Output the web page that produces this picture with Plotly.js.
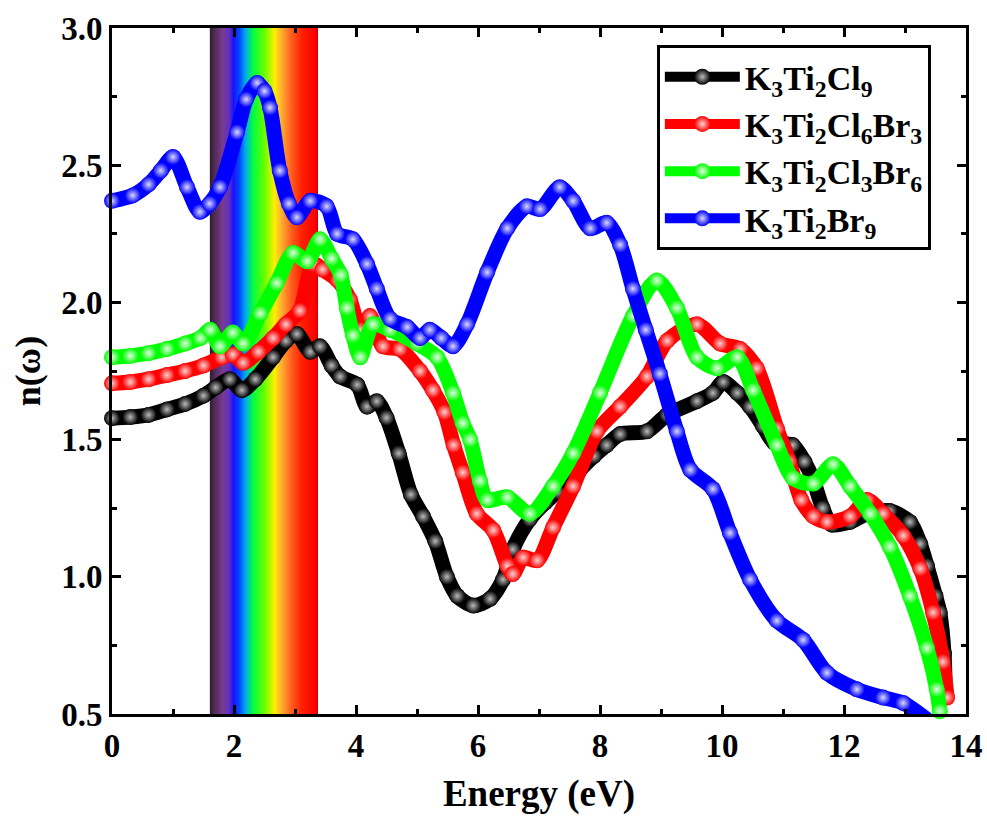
<!DOCTYPE html>
<html>
<head>
<meta charset="utf-8">
<script src="https://cdn.plot.ly/plotly-3.0.1.min.js"></script>
<style>html,body{margin:0;padding:0;background:#fff;}#chart{width:987px;height:822px;}</style>
</head>
<body>
<div id="chart"></div>
<script>
// ---- data ----
const names = ['K<sub>3</sub>Ti<sub>2</sub>Cl<sub>9</sub>', 'K<sub>3</sub>Ti<sub>2</sub>Cl<sub>6</sub>Br<sub>3</sub>', 'K<sub>3</sub>Ti<sub>2</sub>Cl<sub>3</sub>Br<sub>6</sub>', 'K<sub>3</sub>Ti<sub>2</sub>Br<sub>9</sub>'];

const eCl9 = [0,0.3,0.6,0.9,1.2,1.5,1.7,1.93,2.13,2.35,2.64,2.85,3.03,3.25,3.41,3.6,3.74,4.02,4.18,4.34,4.5,4.7,4.9,5.1,5.3,5.49,5.66,5.92,6.2,6.41,6.57,6.85,7.1,7.3,7.67,7.9,8.11,8.33,8.77,9.1,9.59,9.85,10.02,10.25,10.46,10.67,10.85,11.16,11.35,11.5,11.65,11.8,12.1,12.38,12.75,13.08,13.25,13.36,13.5,13.57,13.64,13.66];
const nCl9 = [1.578,1.582,1.59,1.61,1.63,1.66,1.69,1.72,1.68,1.72,1.80,1.86,1.885,1.82,1.84,1.77,1.73,1.70,1.62,1.64,1.58,1.45,1.30,1.22,1.13,1.00,0.93,0.895,0.92,0.99,1.10,1.21,1.27,1.31,1.39,1.44,1.48,1.52,1.53,1.59,1.64,1.67,1.71,1.67,1.62,1.55,1.49,1.48,1.42,1.35,1.25,1.19,1.20,1.23,1.24,1.20,1.12,1.04,0.93,0.87,0.72,0.57];

const eCl6Br3 = [0,0.3,0.6,0.9,1.2,1.5,1.8,1.98,2.15,2.4,2.64,2.85,3.08,3.3,3.45,3.7,3.9,4.07,4.23,4.44,4.72,5.05,5.26,5.45,5.6,5.75,5.98,6.25,6.48,6.57,6.74,6.97,7.23,7.56,7.95,8.33,8.77,9.1,9.59,9.97,10.3,10.57,10.9,11.1,11.3,11.5,11.72,12.1,12.38,12.64,12.97,13.25,13.46,13.62,13.69];
const nCl6Br3 = [1.705,1.71,1.72,1.735,1.75,1.77,1.80,1.81,1.78,1.82,1.87,1.92,1.97,2.14,2.12,2.08,2.01,1.90,1.95,1.84,1.83,1.75,1.68,1.60,1.48,1.38,1.23,1.17,1.04,1.01,1.07,1.06,1.18,1.33,1.53,1.62,1.73,1.86,1.92,1.85,1.83,1.76,1.54,1.42,1.28,1.22,1.20,1.22,1.28,1.23,1.15,1.03,0.87,0.69,0.56];

const eCl3Br6 = [0,0.3,0.6,0.9,1.2,1.45,1.61,1.77,1.98,2.15,2.43,2.7,2.97,3.2,3.41,3.6,3.75,3.85,3.95,4.07,4.28,4.56,5.0,5.33,5.59,5.75,5.87,6.03,6.15,6.48,6.85,7.23,7.56,8.0,8.54,8.93,9.26,9.59,9.92,10.25,10.51,10.9,11.16,11.5,11.82,12.1,12.43,12.75,13.08,13.36,13.52,13.57];
const nCl3Br6 = [1.80,1.805,1.815,1.83,1.85,1.87,1.90,1.84,1.89,1.85,1.96,2.07,2.18,2.15,2.23,2.16,2.10,1.98,1.88,1.80,1.92,1.90,1.85,1.80,1.67,1.56,1.50,1.35,1.28,1.29,1.23,1.33,1.45,1.67,1.95,2.08,1.98,1.80,1.76,1.80,1.68,1.48,1.36,1.34,1.41,1.33,1.23,1.11,0.93,0.74,0.59,0.51];

const eBr9 = [0,0.34,0.6,0.8,1.0,1.23,1.44,1.6,1.77,2.05,2.2,2.38,2.5,2.59,2.75,2.9,3.03,3.25,3.52,3.69,3.95,4.18,4.34,4.56,4.84,5.05,5.21,5.4,5.59,5.82,6.15,6.48,6.8,7.02,7.34,7.56,7.84,8.11,8.33,8.54,8.75,8.98,9.26,9.48,9.85,10.13,10.46,10.9,11.33,11.72,12.21,12.64,12.97,13.36];
const nBr9 = [2.37,2.39,2.43,2.48,2.53,2.42,2.33,2.36,2.42,2.62,2.74,2.80,2.77,2.71,2.48,2.36,2.31,2.37,2.35,2.25,2.23,2.14,2.05,1.94,1.91,1.87,1.90,1.87,1.84,1.92,2.11,2.27,2.35,2.34,2.42,2.37,2.27,2.29,2.21,2.05,1.90,1.74,1.53,1.39,1.32,1.16,0.99,0.84,0.77,0.65,0.59,0.56,0.54,0.48];

const xs = [eCl9, eCl6Br3, eCl3Br6, eBr9];
const ys = [nCl9, nCl6Br3, nCl3Br6, nBr9];
const colors = ['#000000', '#ff0000', '#00ff00', '#0000ff'];
const glows = ['#bbbbbb', '#ffd0d0', '#e0ffe0', '#d8d8ff'];

// visible-light band (eV)
const bandRange = [1.6, 3.38];
const bandStops = [[0,'#2d1b2e'],[0.04,'#4a2a50'],[0.12,'#7a3a90'],[0.18,'#6030c0'],[0.22,'#1a10ff'],[0.28,'#0050ff'],[0.33,'#00aaee'],[0.40,'#00ff40'],[0.50,'#60ff00'],[0.60,'#ffee00'],[0.66,'#ffb030'],[0.75,'#ff6020'],[0.85,'#ff2000'],[0.97,'#ff0000'],[1,'#cc0000']];

const xTicks = [0,2,4,6,8,10,12,14];
const yTicks = [0.5,1.0,1.5,2.0,2.5,3.0];

// ---- build ----
const traces = xs.map((x, i) => ({
  type: 'scatter', mode: 'lines+markers', name: names[i],
  x: x, y: ys[i],
  line: {color: colors[i], width: 15, shape: 'spline', smoothing: 0.8},
  marker: {color: colors[i], size: 16, line: {width: 0}, gradient: {type: 'radial', color: glows[i]}},
  cliponaxis: false
}));

const stopsSvg = bandStops.map(s => `<stop offset="${s[0]}" stop-color="${s[1]}"/>`).join('');
const svg = `<svg xmlns="http://www.w3.org/2000/svg" width="200" height="100" preserveAspectRatio="none"><defs><linearGradient id="g" x1="0" x2="1" y1="0" y2="0">${stopsSvg}</linearGradient></defs><rect width="200" height="100" fill="url(#g)"/></svg>`;
const svgUri = 'data:image/svg+xml;base64,' + btoa(svg);

const SERIF = 'Liberation Serif';
const tickFont = {family: SERIF, size: 33, color: '#000', weight: 'bold'};
const axisCommon = {
  showline: true, linecolor: '#000', linewidth: 3, mirror: 'ticks',
  ticks: 'inside', ticklen: 9, tickwidth: 3, tickcolor: '#000',
  showgrid: false, zeroline: false, tickfont: tickFont
};

const layout = {
  width: 987, height: 822,
  margin: {l: 112, r: 21, t: 28, b: 108},
  paper_bgcolor: '#fff', plot_bgcolor: '#fff',
  showlegend: true,
  xaxis: Object.assign({}, axisCommon, {
    range: [0, 14], tickvals: xTicks, ticktext: xTicks.map(String),
    minor: {dtick: 1, tick0: 0, ticks: 'inside', ticklen: 5, tickwidth: 3, tickcolor: '#000'},
    title: {text: 'Energy (eV)', font: {family: SERIF, size: 37, color: '#000', weight: 'bold'}, standoff: 18}
  }),
  yaxis: Object.assign({}, axisCommon, {
    range: [0.5, 3.0], tickvals: yTicks, ticktext: yTicks.map(v => v.toFixed(1)),
    minor: {dtick: 0.25, tick0: 0.5, ticks: 'inside', ticklen: 5, tickwidth: 3, tickcolor: '#000'},
    title: {text: 'n(ω)', font: {family: SERIF, size: 36, color: '#000', weight: 'bold'}, standoff: 10}
  }),
  legend: {
    x: 0.638, y: 0.975, xanchor: 'left', yanchor: 'top',
    bgcolor: '#fff', bordercolor: '#000', borderwidth: 3,
    font: {family: SERIF, size: 34, color: '#000', weight: 'bold'},
    tracegroupgap: 0, itemwidth: 75
  },
  images: [{
    source: svgUri, xref: 'x', yref: 'paper',
    x: bandRange[0], y: 1, sizex: bandRange[1] - bandRange[0], sizey: 1,
    sizing: 'stretch', xanchor: 'left', yanchor: 'top', layer: 'below'
  }]
};

Plotly.newPlot('chart', traces, layout, {displayModeBar: false, staticPlot: true});
</script>
</body>
</html>
